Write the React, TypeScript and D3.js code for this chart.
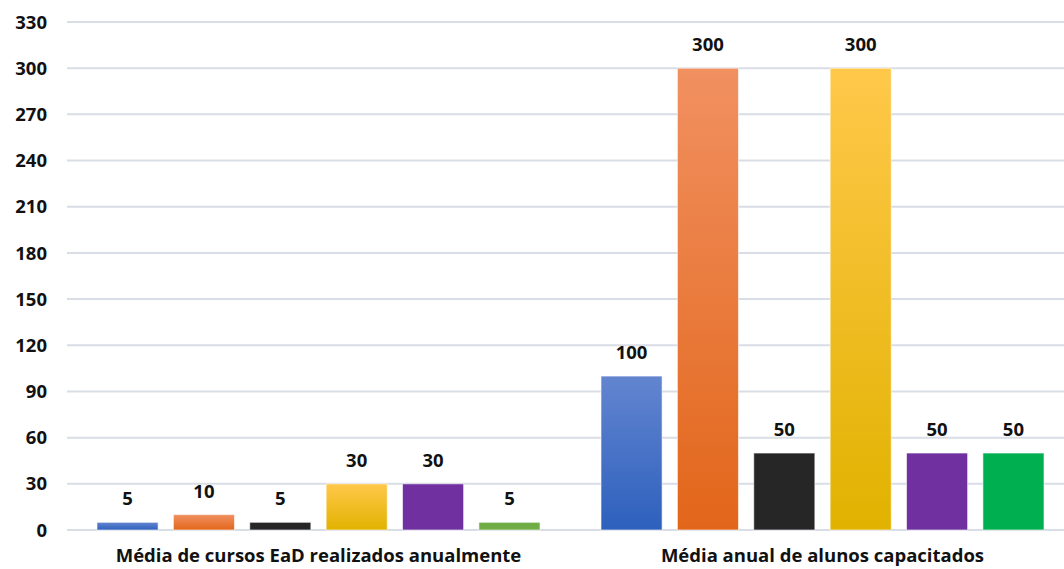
import React from "react";
import * as d3 from "d3";

// Two indicators, six series each
const categories = [
  "Média de cursos EaD realizados anualmente",
  "Média anual de alunos capacitados",
];
const seriesKeys = ["s1", "s2", "s3", "s4", "s5", "s6"];
const cursosValues = [5, 10, 5, 30, 30, 5];
const alunosValues = [100, 300, 50, 300, 50, 50];
const yTicks = [0, 30, 60, 90, 120, 150, 180, 210, 240, 270, 300, 330];

// Fill per series; gradients are [top, bottom]
const seriesFills: (string | [string, string])[] = [
  ["#6385d0", "#2d60bd"],
  ["#f19060", "#e2661a"],
  "#262626",
  ["#ffc84a", "#e1b200"],
  "#7030a0",
  "#00b050",
];
const firstGroupGreen = "#70ad47";

const W = 1064;
const H = 569;

export default function App() {
  const y = d3.scaleLinear().domain([0, 330]).range([530, 22]);
  const x0 = d3
    .scaleBand<string>()
    .domain(categories)
    .range([66.5, 1074.5])
    .paddingInner(0.121)
    .paddingOuter(0.0605);
  const x1 = d3
    .scaleBand<string>()
    .domain(seriesKeys)
    .range([0, x0.bandwidth()])
    .paddingInner(0.2)
    .paddingOuter(0);

  const groups = [cursosValues, alunosValues];
  const font = "'Open Sans', 'Segoe UI', sans-serif";

  const fillFor = (gi: number, si: number) => {
    const f = seriesFills[si];
    if (Array.isArray(f)) return `url(#grad${si})`;
    if (gi === 0 && si === 5) return firstGroupGreen;
    return f;
  };

  return (
    <svg
      width={W}
      height={H}
      style={{ position: "absolute", left: 0, top: 0, background: "#fff" }}
    >
      <defs>
        {seriesFills.map((f, i) =>
          Array.isArray(f) ? (
            <linearGradient key={i} id={`grad${i}`} x1="0" y1="0" x2="0" y2="1">
              <stop offset="0" stopColor={f[0]} />
              <stop offset="1" stopColor={f[1]} />
            </linearGradient>
          ) : null
        )}
      </defs>

      {/* gridlines */}
      {yTicks.map((t) => (
        <line
          key={t}
          x1={67}
          x2={W}
          y1={y(t)}
          y2={y(t)}
          stroke="#d9dde6"
          strokeWidth={2}
        />
      ))}

      {/* y tick labels */}
      {yTicks.map((t) => (
        <text
          key={t}
          x={47}
          y={y(t)}
          dy="0.36em"
          textAnchor="end"
          fontFamily={font}
          fontWeight={700}
          fontSize={18.5}
          fill="#111"
        >
          {t}
        </text>
      ))}

      {/* bars */}
      {categories.map((c, gi) => (
        <g key={c} transform={`translate(${x0(c)},0)`}>
          {seriesKeys.map((k, si) => {
            const v = groups[gi][si];
            const bx = x1(k)!;
            const bw = x1.bandwidth();
            return (
              <g key={k}>
                <rect
                  x={bx}
                  y={y(v)}
                  width={bw}
                  height={y(0) - y(v)}
                  fill={fillFor(gi, si)}
                  stroke="#ffffff"
                  strokeOpacity={0.6}
                  strokeWidth={1}
                />
                <text
                  x={bx + bw / 2}
                  y={y(v) - 17}
                  textAnchor="middle"
                  fontFamily={font}
                  fontWeight={700}
                  fontSize={18.5}
                  fill="#111"
                >
                  {v}
                </text>
              </g>
            );
          })}
          <text
            x={x0.bandwidth() / 2}
            y={562}
            textAnchor="middle"
            fontFamily={font}
            fontWeight={700}
            fontSize={18.5}
            fill="#111"
          >
            {c}
          </text>
        </g>
      ))}
    </svg>
  );
}
